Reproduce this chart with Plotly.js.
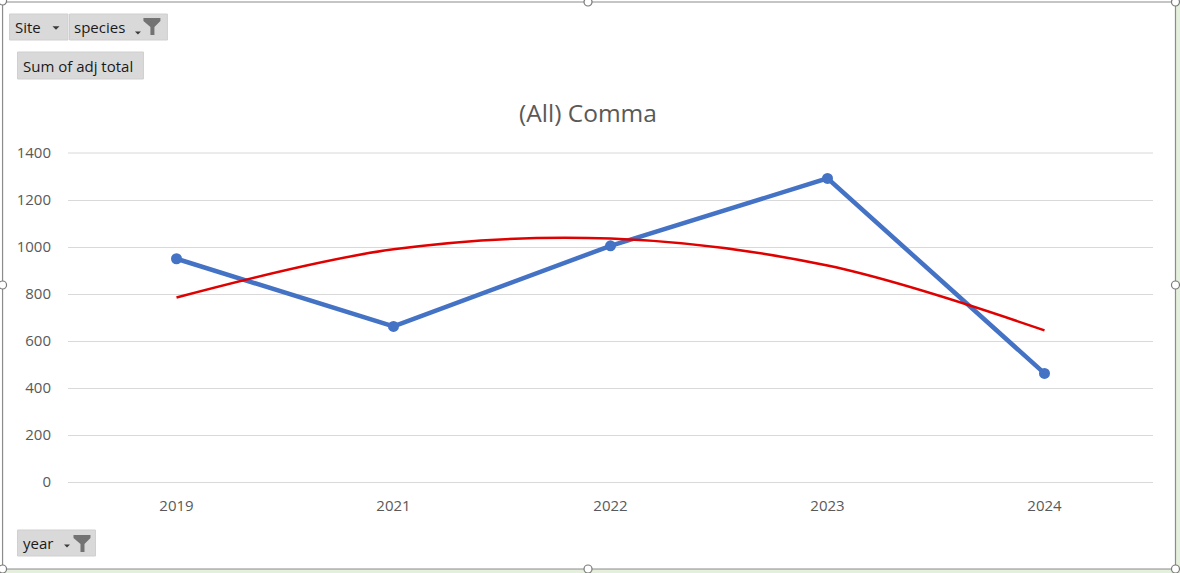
<!DOCTYPE html>
<html>
<head>
<meta charset="utf-8">
<script src="https://cdn.plot.ly/plotly-3.0.1.min.js"></script>
<style>
html,body{margin:0;padding:0;background:#ffffff;}
#chart{width:1180px;height:573px;}
</style>
</head>
<body>
<div id="chart"></div>
<script>
// ---- data ----
const years = ["2019", "2021", "2022", "2023", "2024"];
const adjTotal = [950, 662, 1005, 1292, 462];
// polynomial trendline values at each year
const trendValues = [785, 990, 1036, 921, 645];
const yTicks = [0, 200, 400, 600, 800, 1000, 1200, 1400];
const chartTitle = "(All) Comma";

// ---- layout geometry ----
const W = 1180, H = 573;
const L = 67.5, R = 26.5, T = 153, B = 91;
const PW = W - L - R, PH = H - T - B;
const px = v => (v - L) / PW;          // pixel x -> paper x
const py = v => (H - B - v) / PH;      // pixel y (from top) -> paper y

const shapes = [];
const annotations = [];

// green area outside the chart border
shapes.push({type:'rect', xref:'paper', yref:'paper', x0:px(1176), x1:px(1182), y0:py(-2), y1:py(575),
  fillcolor:'#e4efdc', line:{width:0}, layer:'below'});
shapes.push({type:'rect', xref:'paper', yref:'paper', x0:px(-2), x1:px(1182), y0:py(569), y1:py(575),
  fillcolor:'#e4efdc', line:{width:0}, layer:'below'});
// chart border
shapes.push({type:'rect', xref:'paper', yref:'paper', x0:px(2), x1:px(1176), y0:py(569), y1:py(2),
  fillcolor:'rgba(0,0,0,0)', line:{color:'#8c8c8c', width:1.2}, layer:'above'});

// top gridline (at the upper range edge, yTicks max)
shapes.push({type:'line', xref:'paper', yref:'paper', x0:0, x1:1, y0:1, y1:1,
  line:{color:'#d9d9d9', width:1}, layer:'below'});

// pivot field buttons
function button(x0, y0, x1, y1, label, tx) {
  shapes.push({type:'rect', xref:'paper', yref:'paper', x0:px(x0), x1:px(x1), y0:py(y1), y1:py(y0),
    fillcolor:'#d9d9d9', line:{color:'#cfcfcf', width:1}, layer:'above'});
  annotations.push({xref:'paper', yref:'paper', x:px(tx), y:py((y0+y1)/2), xanchor:'left', yanchor:'middle',
    text:label, showarrow:false, font:{family:'Open Sans, sans-serif', size:15, color:'#1a1a1a'}});
}
function dropArrow(cx, cy, s) {
  shapes.push({type:'path', xref:'paper', yref:'paper',
    path:`M ${px(cx-s)} ${py(cy-s/2)} L ${px(cx+s)} ${py(cy-s/2)} L ${px(cx)} ${py(cy+s/2)} Z`,
    fillcolor:'#3a3a3a', line:{width:0}, layer:'above'});
}
function funnel(x0, y0) {
  const p = [[x0,y0],[x0+17,y0],[x0+17,y0+3],[x0+11,y0+9],[x0+11,y0+17],[x0+7,y0+17],[x0+7,y0+9],[x0,y0+3]];
  shapes.push({type:'path', xref:'paper', yref:'paper',
    path:'M ' + p.map(q => px(q[0]) + ' ' + py(q[1])).join(' L ') + ' Z',
    fillcolor:'#737373', line:{width:0}, layer:'above'});
}
button(9, 14, 67.5, 40, 'Site', 12);
dropArrow(55.5, 28, 3.5);
button(69, 14, 167, 40, 'species', 72);
dropArrow(137.5, 33, 3);
funnel(143, 18);
button(17, 52, 143, 79, 'Sum of adj total', 20);
button(17, 530, 95, 556, 'year', 20);
dropArrow(66.5, 546, 3);
funnel(73, 535);

// selection handles
const handles = [[2,1],[588,2],[1176,2],[2,285],[1176,285],[2,569],[588,569],[1176,569]];
handles.forEach(h => {
  shapes.push({type:'circle', xref:'paper', yref:'paper', x0:px(h[0]-4), x1:px(h[0]+4), y0:py(h[1]+4), y1:py(h[1]-4),
    fillcolor:'#ffffff', line:{color:'#7a7a7a', width:1.2}, layer:'above'});
});

const traces = [
  {
    x: years, y: adjTotal, type:'scatter', mode:'lines+markers', name:'Total',
    line:{color:'#4472c4', width:4.5}, marker:{color:'#4472c4', size:11},
    hoverinfo:'x+y'
  },
  {
    x: years, y: trendValues, type:'scatter', mode:'lines', name:'Poly. (Total)',
    line:{color:'#e00000', width:2.5, shape:'spline', smoothing:1.0},
    hoverinfo:'skip'
  }
];

const layout = {
  width: W, height: H,
  margin:{l:L, r:R, t:T, b:B, pad:0},
  paper_bgcolor:'#ffffff', plot_bgcolor:'#ffffff',
  showlegend:false,
  font:{family:'Open Sans, sans-serif', color:'#595959'},
  title:{text:chartTitle, xref:'container', yref:'container', x:588/W, xanchor:'center', y:1-113/H, yanchor:'middle',
    font:{family:'Open Sans, sans-serif', size:24.5, color:'#595959'}},
  xaxis:{type:'category', range:[-0.5, 4.5], showgrid:false, zeroline:false, showline:false,
    ticks:'', tickfont:{size:15, color:'#595959'}, ticklabelstandoff:13, fixedrange:true},
  yaxis:{range:[0, 1400], tickvals:yTicks, showgrid:true, gridcolor:'#d9d9d9', gridwidth:1,
    zeroline:true, zerolinecolor:'#d9d9d9', zerolinewidth:1, showline:false,
    ticks:'', tickfont:{size:15, color:'#595959'}, ticklabelstandoff:16, fixedrange:true},
  shapes: shapes,
  annotations: annotations
};

Plotly.newPlot('chart', traces, layout, {displayModeBar:false, staticPlot:true});
</script>
</body>
</html>
